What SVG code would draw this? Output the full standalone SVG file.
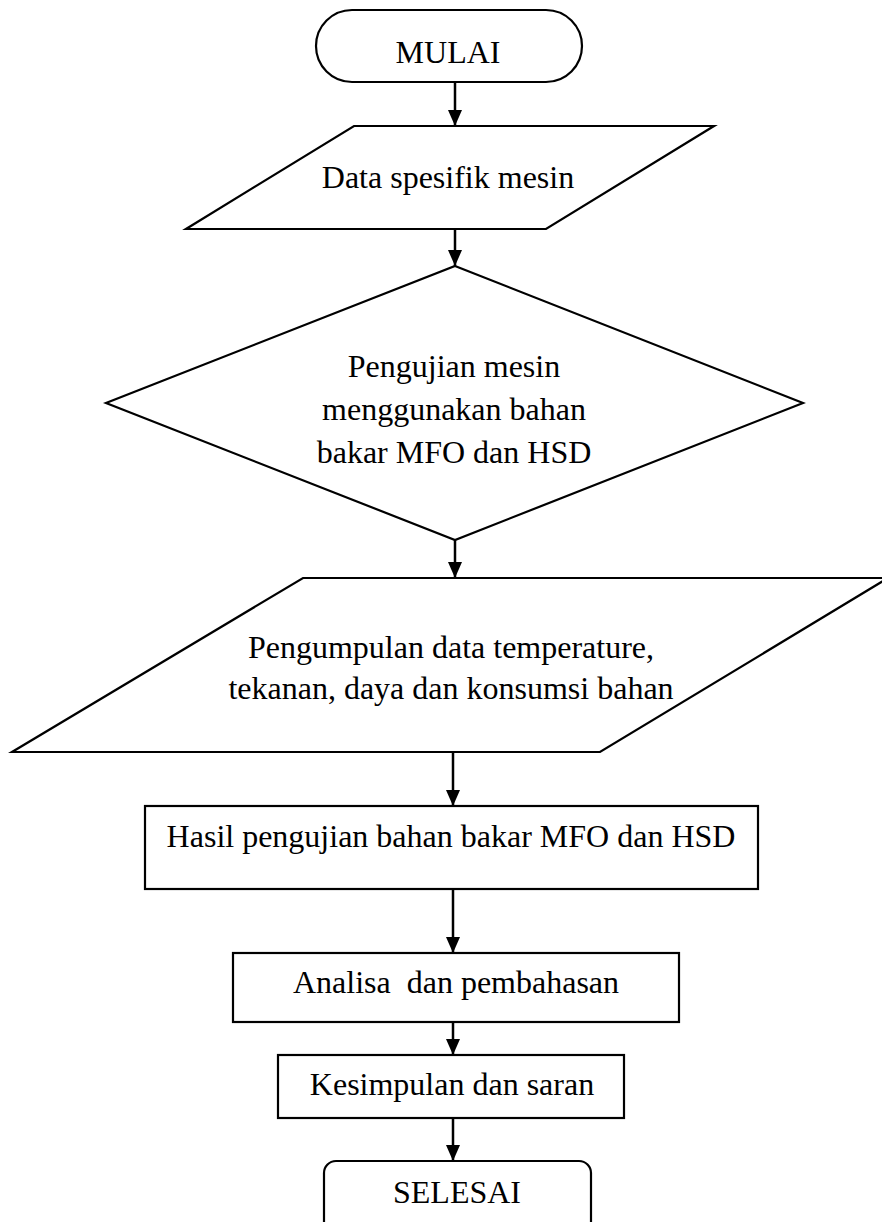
<svg xmlns="http://www.w3.org/2000/svg" width="882" height="1222" viewBox="0 0 882 1222">
<defs>
<marker id="arr" markerUnits="userSpaceOnUse" markerWidth="16" markerHeight="14" refX="16" refY="7" orient="auto">
<path d="M0,0 L16,7 L0,14 z" fill="#000"/>
</marker>
<style>
.s{fill:#fff;stroke:#000;stroke-width:2.2}
.t{font-family:"Liberation Serif","Times New Roman",serif;font-size:32px;fill:#000;text-anchor:middle;white-space:pre}
.c{stroke:#000;stroke-width:2.5;fill:none;marker-end:url(#arr)}
</style>
</defs>
<rect width="882" height="1222" fill="#fff"/>
<g id="connectors">
<line class="c" x1="455" y1="82" x2="455" y2="126"/>
<line class="c" x1="455" y1="229" x2="455" y2="266"/>
<line class="c" x1="455" y1="540" x2="455" y2="578"/>
<line class="c" x1="453" y1="752" x2="453" y2="806"/>
<line class="c" x1="453" y1="889" x2="453" y2="953"/>
<line class="c" x1="453" y1="1022" x2="453" y2="1055"/>
<line class="c" x1="453" y1="1118" x2="453" y2="1161"/>
</g>
<g id="mulai">
<rect class="s" x="316" y="10" width="266" height="72" rx="36" ry="36"/>
<text class="t" x="448" y="63">MULAI</text>
</g>
<g id="data-spesifik">
<polygon class="s" points="354,126 714,126 546,229 186,229"/>
<text class="t" x="448" y="188">Data spesifik mesin</text>
</g>
<g id="pengujian">
<polygon class="s" points="455,266 803,403 455,540 106,403"/>
<text class="t" x="454" y="377">Pengujian mesin</text>
<text class="t" x="454" y="420">menggunakan bahan</text>
<text class="t" x="454" y="463">bakar MFO dan HSD</text>
</g>
<g id="pengumpulan">
<polygon class="s" points="303,578 888,578 600,752 12,752"/>
<text class="t" x="451" y="658">Pengumpulan data temperature,</text>
<text class="t" x="451" y="699">tekanan, daya dan konsumsi bahan</text>
</g>
<g id="hasil">
<rect class="s" x="145" y="806" width="613" height="83"/>
<text class="t" x="451" y="847">Hasil pengujian bahan bakar MFO dan HSD</text>
</g>
<g id="analisa">
<rect class="s" x="233" y="953" width="446" height="69"/>
<text class="t" x="456" y="993" xml:space="preserve">Analisa  dan pembahasan</text>
</g>
<g id="kesimpulan">
<rect class="s" x="278" y="1055" width="346" height="63"/>
<text class="t" x="452" y="1095">Kesimpulan dan saran</text>
</g>
<g id="selesai">
<rect class="s" x="324" y="1161" width="267" height="80" rx="12" ry="12"/>
<text class="t" x="457" y="1203">SELESAI</text>
</g>
</svg>
